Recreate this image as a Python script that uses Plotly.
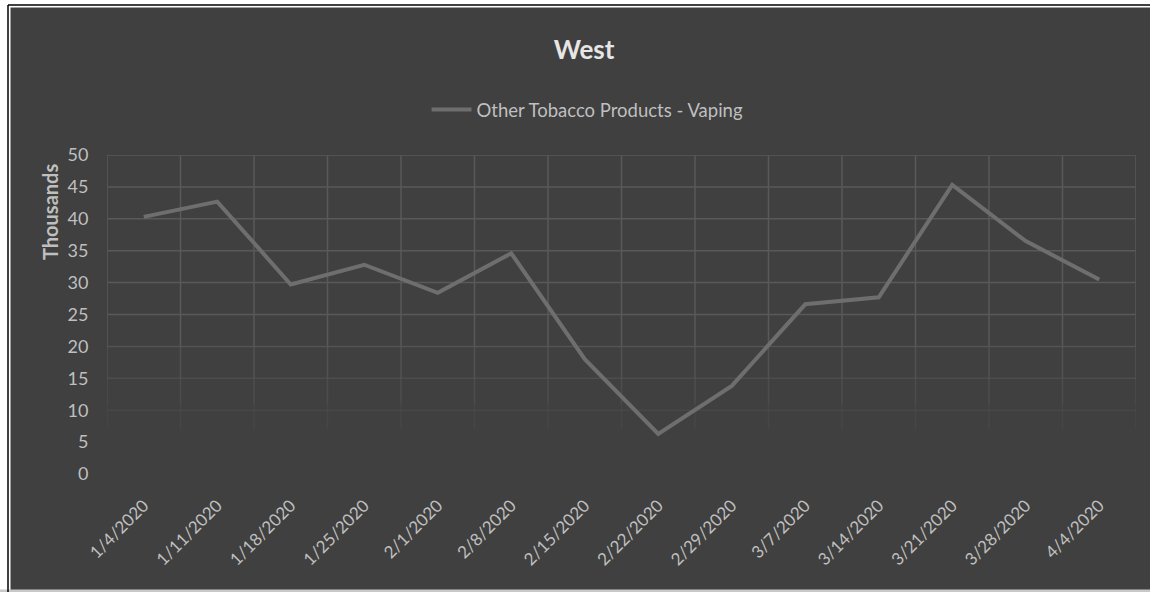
import plotly.graph_objects as go

# Weekly sales, West region
weeks = ["1/4/2020", "1/11/2020", "1/18/2020", "1/25/2020", "2/1/2020", "2/8/2020",
         "2/15/2020", "2/22/2020", "2/29/2020", "3/7/2020", "3/14/2020", "3/21/2020",
         "3/28/2020", "4/4/2020"]
vaping = [40.3, 42.7, 29.7, 32.8, 28.4, 34.6, 18.0, 6.3, 13.8, 26.6, 27.7, 45.3, 36.5, 30.5]
series_name = "Other Tobacco Products - Vaping"
y_ticks = [0, 5, 10, 15, 20, 25, 30, 35, 40, 45, 50]
grid_ticks = [10, 15, 20, 25, 30, 35, 40, 45, 50]

BG = "#404040"
GRID = "#595959"
TEXT = "#bfbfbf"
LINE = "#6e6e6e"
FONT = "Lato"

# plot area in pixels (used to place the frame decorations)
W, H = 1150, 592
L, R, T, B = 107, 14, 155, 118
PW, PH = W - L - R, H - T - B


def px(x):
    return (x - L) / PW


def py(y):
    return (H - B - y) / PH


fig = go.Figure()

fig.add_trace(go.Scatter(
    x=list(range(len(weeks))), y=vaping, mode="lines", name=series_name,
    line=dict(color=LINE, width=4), showlegend=True,
))

shapes = []
# frame: white margin on the left and top, a thin black rule, light strip at the bottom
shapes.append(dict(type="rect", xref="paper", yref="paper", layer="below",
                   x0=px(-2), x1=px(10.5), y0=py(H + 2), y1=py(-2),
                   line=dict(width=0), fillcolor="#ffffff"))
shapes.append(dict(type="rect", xref="paper", yref="paper", layer="below",
                   x0=px(-2), x1=px(W + 2), y0=py(7.5), y1=py(-2),
                   line=dict(width=0), fillcolor="#ffffff"))
shapes.append(dict(type="rect", xref="paper", yref="paper", layer="below",
                   x0=px(-2), x1=px(W + 2), y0=py(H + 2), y1=py(589.5),
                   line=dict(width=0), fillcolor="#c8c8c8"))
shapes.append(dict(type="line", xref="paper", yref="paper", layer="below",
                   x0=px(8), x1=px(8), y0=py(H + 2), y1=py(5),
                   line=dict(color="#000000", width=1.5)))
shapes.append(dict(type="line", xref="paper", yref="paper", layer="below",
                   x0=px(8), x1=px(W + 2), y0=py(5), y1=py(5),
                   line=dict(color="#000000", width=1.5)))

# vertical category separators, fading toward the bottom
fade = [(50, 20, 1.0), (20, 15, 0.75), (15, 11, 0.5), (11, 7, 0.25)]
for i in range(len(weeks) + 1):
    for top, bot, op in fade:
        shapes.append(dict(type="line", xref="x", yref="y", layer="below",
                           x0=i - 0.5, x1=i - 0.5, y0=bot, y1=top,
                           line=dict(color=GRID, width=1.5), opacity=op))
# horizontal gridlines, the lower ones fading out
for v in grid_ticks:
    op = 1.0 if v >= 25 else (0.8 if v == 20 else (0.55 if v == 15 else 0.3))
    shapes.append(dict(type="line", xref="x", yref="y", layer="below",
                       x0=-0.5, x1=len(weeks) - 0.5, y0=v, y1=v,
                       line=dict(color=GRID, width=1.5), opacity=op))

fig.update_layout(
    width=W, height=H,
    margin=dict(l=L, r=R, t=T, b=B),
    paper_bgcolor=BG, plot_bgcolor="rgba(0,0,0,0)",
    font=dict(family=FONT, color=TEXT),
    title=dict(text="<b>West</b>", xref="paper", x=0.4636, xanchor="center",
               yref="container", y=0.915, yanchor="middle",
               font=dict(size=26, color="#e6e6e6", family=FONT)),
    legend=dict(orientation="h", x=0.467, xanchor="center", y=1.141, yanchor="middle",
                font=dict(size=18.5, color=TEXT, family=FONT), bgcolor="rgba(0,0,0,0)",
                itemwidth=40),
    xaxis=dict(range=[-0.5, len(weeks) - 0.5], tickmode="array",
               tickvals=list(range(len(weeks))), ticktext=weeks, tickangle=-45,
               showgrid=False, zeroline=False, showline=False,
               ticks="outside", ticklen=14, tickcolor="rgba(0,0,0,0)",
               tickfont=dict(size=17, color=TEXT, family=FONT)),
    yaxis=dict(range=[0, 50], tickmode="array", tickvals=y_ticks, showgrid=False,
               zeroline=False, showline=False,
               ticks="outside", ticklen=14, tickcolor="rgba(0,0,0,0)",
               tickfont=dict(size=18, color=TEXT, family=FONT)),
    shapes=shapes,
    annotations=[dict(text="<b>Thousands</b>", xref="paper", yref="paper",
                      x=px(50), y=py(212), xanchor="center", yanchor="middle",
                      textangle=-90, showarrow=False,
                      font=dict(size=20, color=TEXT, family=FONT))],
)

fig.write_html("out.html")
